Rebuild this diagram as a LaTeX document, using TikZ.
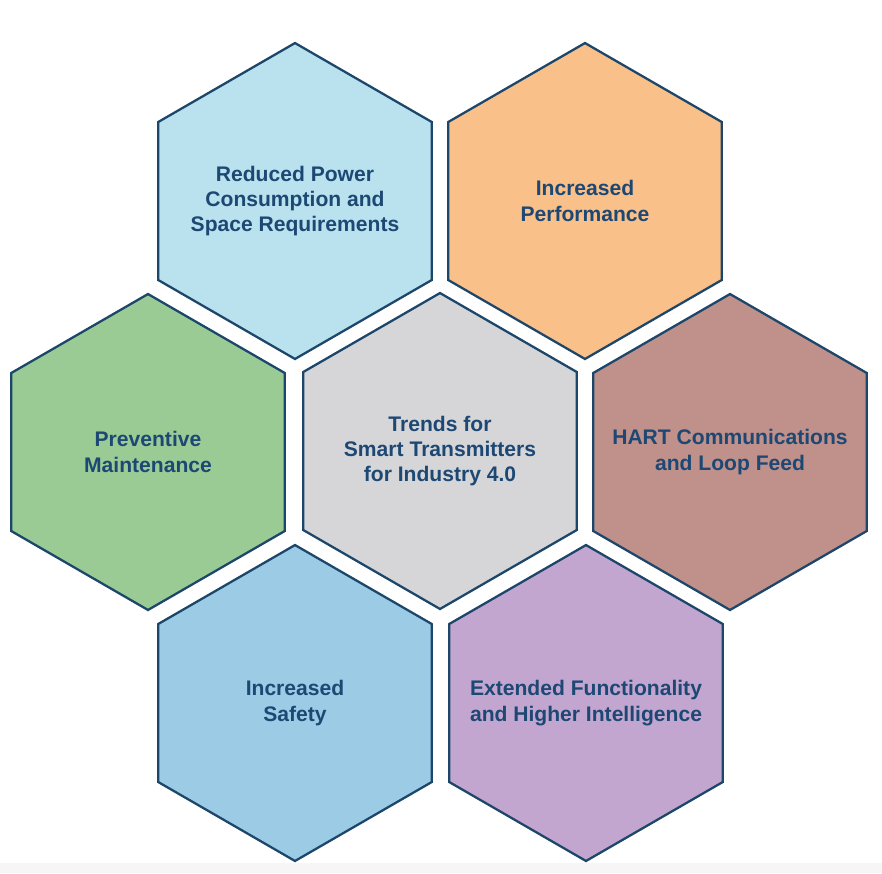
\documentclass[tikz,border=0pt]{standalone}
\usepackage{fontspec}
\setmainfont{Liberation Sans}
\usetikzlibrary{shapes.geometric}

\definecolor{hexline}{HTML}{1D476A}
\definecolor{hextext}{HTML}{1D4874}
\definecolor{cpower}{HTML}{BAE1EE}
\definecolor{cperf}{HTML}{F9C08A}
\definecolor{cmaint}{HTML}{9ACB95}
\definecolor{ctrend}{HTML}{D6D6D9}
\definecolor{chart}{HTML}{C0908A}
\definecolor{csafe}{HTML}{9CCBE6}
\definecolor{cfunc}{HTML}{C3A6CF}

\tikzset{
  hexcell/.style={regular polygon, regular polygon sides=6,
    shape border rotate=30, minimum size=6.32cm, inner sep=0pt,
    draw=hexline, line width=1.3pt},
  hexlabel/.style={text=hextext, align=center, inner sep=0pt,
    font=\fontsize{12}{14.4}\selectfont\bfseries}
}

\begin{document}
\begin{tikzpicture}
      [x=0.02cm,y=-0.02cm]
      \useasboundingbox (0,0) rectangle (882,873);
      \fill[gray!7] (0,863) rectangle (882,873);
      \node[hexcell,fill=cpower,label={[hexlabel]center:Reduced Power\\Consumption and\\Space Requirements}] (power) at (295,201) {};
      \node[hexcell,fill=cperf,label={[hexlabel]center:Increased\\Performance}] (perf) at (585,201) {};
      \node[hexcell,fill=cmaint,label={[hexlabel]center:Preventive\\Maintenance}] (maint) at (148,452) {};
      \node[hexcell,fill=ctrend,label={[hexlabel]center:Trends for\\Smart Transmitters\\for Industry 4.0}] (trend) at (440,451) {};
      \node[hexcell,fill=chart,label={[hexlabel]center:HART Communications\\and Loop Feed}] (hart) at (730,452) {};
      \node[hexcell,fill=csafe,label={[hexlabel]center:Increased\\Safety}] (safe) at (295,703) {};
      \node[hexcell,fill=cfunc,label={[hexlabel]center:Extended Functionality\\and Higher Intelligence}] (func) at (586,703) {};
    \end{tikzpicture}
\end{document}
